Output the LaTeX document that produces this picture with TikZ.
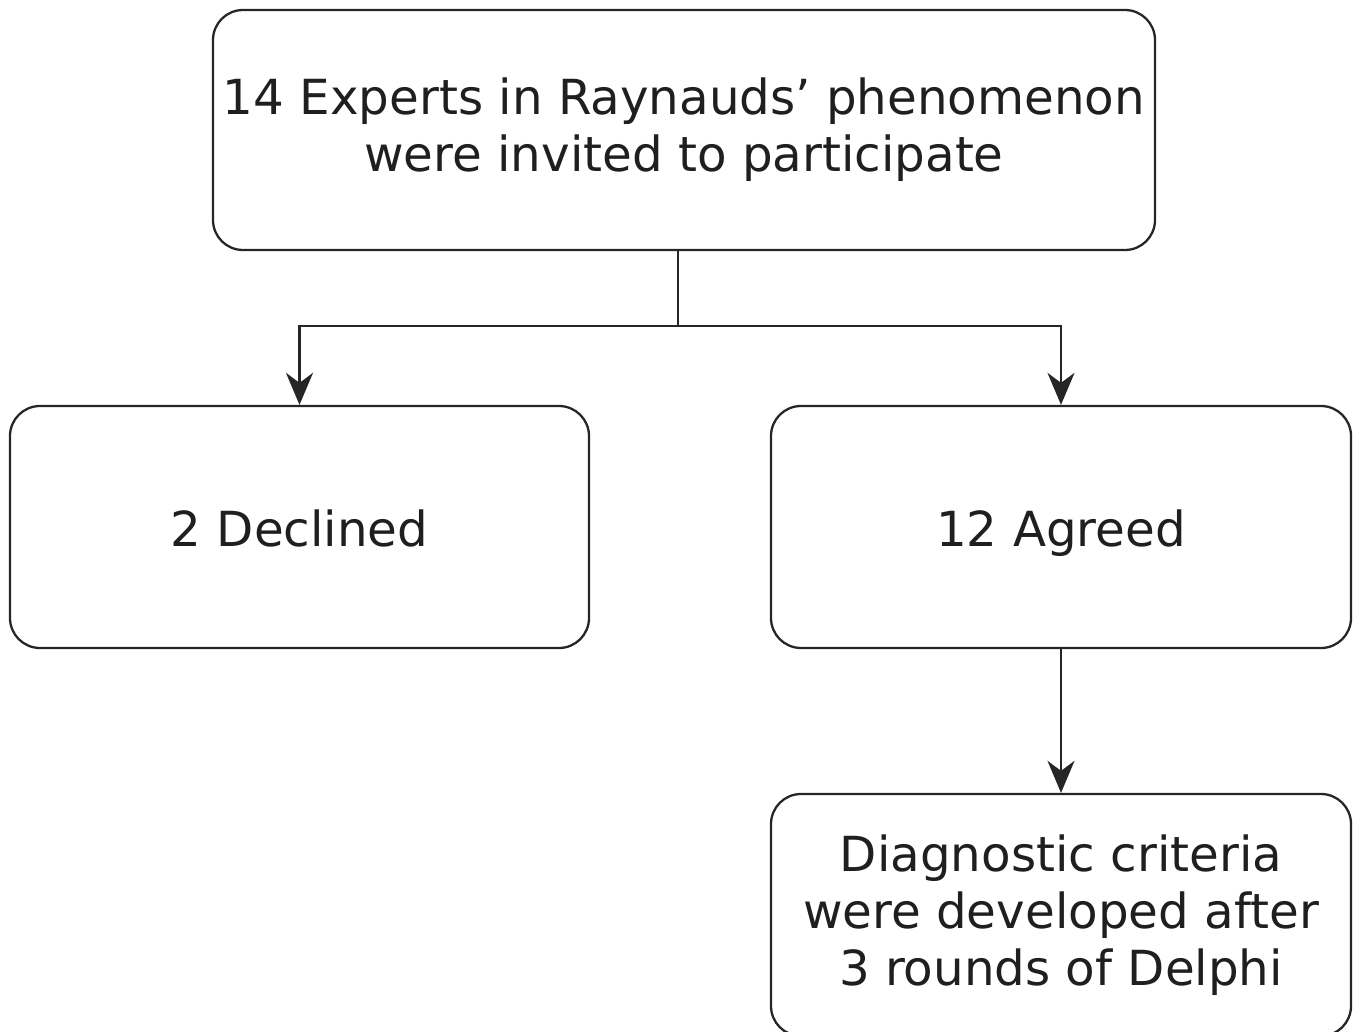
\documentclass[tikz,border=0pt]{standalone}
\usepackage{fontspec}
\setmainfont{DejaVu Sans}
\usetikzlibrary{arrows.meta}
\tikzset{flowbox/.style={rectangle, rounded corners=0.6cm, draw=black!85, line width=1.3pt, align=center, font=\fontsize{27.5}{32.5}\selectfont, text=black!88},
  oneline/.style={text height=0.9cm, text depth=0.14cm},
  flowarrow/.style={draw=black!85, line width=1.3pt, -{Stealth[length=0.64cm, width=0.54cm, inset=0.2cm]}}}
\begin{document}
\begin{tikzpicture}
\useasboundingbox (0,0) rectangle (27.16,-20.64);
\node[flowbox, minimum width=18.84cm, minimum height=4.8cm] (invited) at (13.68,-2.6) {14 Experts in Raynauds’ phenomenon\\were invited to participate};
\node[flowbox, oneline, minimum width=11.58cm, minimum height=4.84cm] (declined) at (5.99,-10.54) {2 Declined};
\node[flowbox, oneline, minimum width=11.6cm, minimum height=4.84cm] (agreed) at (21.22,-10.54) {12 Agreed};
\node[flowbox, minimum width=11.6cm, minimum height=4.84cm] (criteria) at (21.22,-18.3) {Diagnostic criteria\\were developed after\\3 rounds of Delphi};
\coordinate (split) at (13.56,-6.52);
\draw[draw=black!85, line width=1.3pt] (split |- invited.south) -- (split);
\draw[flowarrow] (split) -| (declined.north);
\draw[flowarrow] (split) -| (agreed.north);
\draw[flowarrow] (agreed) -- (criteria);
\end{tikzpicture}
\end{document}
